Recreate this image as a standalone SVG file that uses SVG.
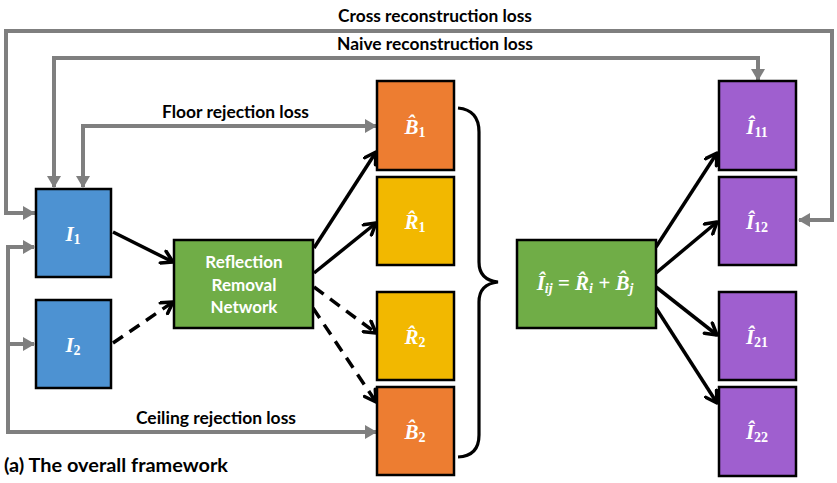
<svg xmlns="http://www.w3.org/2000/svg" width="837" height="483" viewBox="0 0 837 483">
<style>
.lbl{font-family:Lato,"Open Sans",sans-serif;font-weight:bold;font-size:16.5px;fill:#000}
.box{stroke:#000;stroke-width:2.5}
.blue{fill:#4d92d2}.green{fill:#70ad47}.orange{fill:#ed7d31}.yellow{fill:#f2b800}.purple{fill:#9f5fcf}
.m{font-family:"Liberation Serif","DejaVu Serif",serif;font-weight:bold;font-style:italic;font-size:21px;fill:#fff}
.s{font-style:normal;font-size:14px}
.si{font-style:italic;font-size:14px}
.w{font-family:Lato,"Open Sans",sans-serif;font-weight:bold;font-size:17px;fill:#fff}
.gl{fill:none;stroke:#7f7f7f;stroke-width:4}
.bl{fill:none;stroke:#000;stroke-width:3.5}
.dash{stroke-dasharray:12 8}
</style>
<defs>
<marker id="ga" markerUnits="userSpaceOnUse" viewBox="0 0 12 14" markerWidth="12" markerHeight="14" refX="11" refY="7" orient="auto"><path d="M0,0 L12,7 L0,14 Z" fill="#7f7f7f"/></marker>
<marker id="ba" markerUnits="userSpaceOnUse" viewBox="0 0 16 16" markerWidth="16" markerHeight="16" refX="13" refY="8" orient="auto"><path d="M2,1.5 L13,8 L2,14.5" fill="none" stroke="#000" stroke-width="3.5" stroke-linecap="round" stroke-linejoin="round"/></marker>
</defs>

<g id="connectors">
<path class="gl" d="M36,213 H6 V31 H832 V220 H799" marker-end="url(#ga)"/>
<path class="gl" d="M54,187 V58 H758 V80" marker-end="url(#ga)"/>
<path class="gl" d="M83,187 V126 H376" marker-end="url(#ga)"/>
<path class="gl" d="M34,247 H8 V432 H376" marker-end="url(#ga)"/>
<path class="gl" d="M8,344 H34" marker-end="url(#ga)"/>
<path class="gl" d="M8,247 H34" marker-end="url(#ga)"/>
<path class="gl" d="M54,70 V187" marker-end="url(#ga)"/>
<path class="gl" d="M83,140 V187" marker-end="url(#ga)"/>
<path class="gl" d="M20,213 H34" marker-end="url(#ga)"/>
<path class="bl" d="M113,232 L173,262" marker-end="url(#ba)"/>
<path class="bl dash" d="M113,343 L173,302" marker-end="url(#ba)"/>
<path class="bl" d="M314,248 L376,152" marker-end="url(#ba)"/>
<path class="bl" d="M314,273 L376,223" marker-end="url(#ba)"/>
<path class="bl dash" d="M314,287 L376,333" marker-end="url(#ba)"/>
<path class="bl dash" d="M313,308 L376,402" marker-end="url(#ba)"/>
<path class="bl" d="M656,247 L717,153" marker-end="url(#ba)"/>
<path class="bl" d="M656,273 L717,222" marker-end="url(#ba)"/>
<path class="bl" d="M656,287 L717,335" marker-end="url(#ba)"/>
<path class="bl" d="M656,308 L717,403" marker-end="url(#ba)"/>
<path fill="none" stroke="#000" stroke-width="3.2" d="M458,108 Q479,110 479,132 V262 Q479,280 498,282 Q479,284 479,302 V435 Q479,456 458,457"/>
</g>

<g id="I1"><rect class="box blue" x="36" y="189" width="75" height="88"/><text class="m" x="73" y="241" text-anchor="middle">I<tspan class="s" dy="3">1</tspan></text></g>
<g id="I2"><rect class="box blue" x="36" y="300" width="75" height="88"/><text class="m" x="73" y="352" text-anchor="middle">I<tspan class="s" dy="3">2</tspan></text></g>
<g id="RRN"><rect class="box green" x="174" y="240" width="139" height="88"/>
<text class="w" text-anchor="middle"><tspan x="244" y="268">Reflection</tspan><tspan x="244" y="291">Removal</tspan><tspan x="244" y="313">Network</tspan></text></g>
<g id="B1"><rect class="box orange" x="377" y="81" width="77" height="89"/><text class="m" x="415" y="134" text-anchor="middle">B&#x302;<tspan class="s" dy="3">1</tspan></text></g>
<g id="R1"><rect class="box yellow" x="377" y="177" width="77" height="88"/><text class="m" x="415" y="229" text-anchor="middle">R&#x302;<tspan class="s" dy="3">1</tspan></text></g>
<g id="R2"><rect class="box yellow" x="377" y="292" width="77" height="88"/><text class="m" x="415" y="344" text-anchor="middle">R&#x302;<tspan class="s" dy="3">2</tspan></text></g>
<g id="B2"><rect class="box orange" x="377" y="387" width="77" height="88"/><text class="m" x="415" y="439" text-anchor="middle">B&#x302;<tspan class="s" dy="3">2</tspan></text></g>
<g id="F"><rect class="box green" x="517" y="240" width="139" height="88"/><text class="m" x="585" y="290" text-anchor="middle">I&#x302;<tspan class="si" dy="3">ij</tspan><tspan dy="-3"> = R&#x302;</tspan><tspan class="si" dy="3">i</tspan><tspan dy="-3"> + B&#x302;</tspan><tspan class="si" dy="3">j</tspan></text></g>
<g id="I11"><rect class="box purple" x="719" y="81" width="77" height="89"/><text class="m" x="757" y="134" text-anchor="middle">I&#x302;<tspan class="s" dy="3">11</tspan></text></g>
<g id="I12"><rect class="box purple" x="719" y="177" width="77" height="88"/><text class="m" x="757" y="229" text-anchor="middle">I&#x302;<tspan class="s" dy="3">12</tspan></text></g>
<g id="I21"><rect class="box purple" x="719" y="292" width="77" height="88"/><text class="m" x="757" y="344" text-anchor="middle">I&#x302;<tspan class="s" dy="3">21</tspan></text></g>
<g id="I22"><rect class="box purple" x="719" y="387" width="77" height="89"/><text class="m" x="757" y="439" text-anchor="middle">I&#x302;<tspan class="s" dy="3">22</tspan></text></g>

<g id="labels">
<text class="lbl" x="338" y="22" textLength="194" lengthAdjust="spacingAndGlyphs">Cross reconstruction loss</text>
<text class="lbl" x="337" y="50" textLength="196" lengthAdjust="spacingAndGlyphs">Naive reconstruction loss</text>
<text class="lbl" x="162" y="118" textLength="147" lengthAdjust="spacingAndGlyphs">Floor rejection loss</text>
<text class="lbl" x="136" y="424" textLength="160" lengthAdjust="spacingAndGlyphs">Ceiling rejection loss</text>
<text class="lbl" x="4" y="472" style="font-size:19px" textLength="224" lengthAdjust="spacingAndGlyphs">(a) The overall framework</text>
</g>
</svg>
